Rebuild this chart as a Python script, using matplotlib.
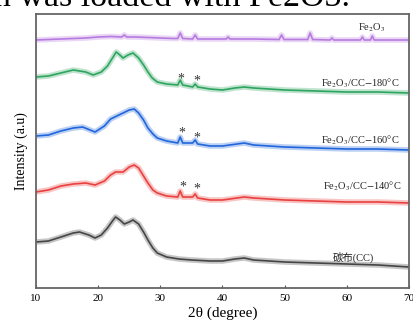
import matplotlib
matplotlib.use("Agg")
import matplotlib.pyplot as plt

# 2θ (degree) / intensity (a.u.), curves already stacked
tt_fe2o3 = [10, 12, 14, 16, 18, 20, 22, 23.8, 24.2, 24.6, 26, 28, 30, 32, 32.8, 33.2, 33.6,
            35.2, 35.6, 36.0, 38, 40.6, 40.9, 41.2, 45, 49.1, 49.5, 49.9, 53.7, 54.1, 54.5,
            57.3, 57.6, 57.9, 62.2, 62.5, 62.8, 63.8, 64.1, 64.4, 70]
int_fe2o3 = [248, 248.5, 249, 249.5, 250, 251, 251.5, 251, 253, 251, 251, 250.5, 250, 249.5,
             249.5, 255, 249.5, 249, 253, 249, 249, 249, 251, 249, 249, 248.5, 253, 248.5,
             248.5, 255, 248.5, 248, 250, 248, 248, 251, 248, 248, 252, 248, 248]

tt_180 = [10, 12, 14, 16, 18, 19.2, 20.5, 21.5, 22.3, 22.9, 23.5, 24, 24.8, 25.6, 26.5, 27.3,
          28, 28.7, 29.5, 31, 32.8, 33.2, 33.6, 35.2, 35.6, 36, 38, 40, 42, 43.5, 45, 50, 55,
          60, 65, 70]
int_180 = [211, 212, 215, 218, 216, 213, 216, 222, 230, 236, 233, 230, 233, 235, 230, 223,
           216, 210, 206, 204, 203, 208, 203, 201, 204, 201, 199, 198, 200, 201, 200, 198, 197,
           196, 196, 195]

tt_160 = [10, 12, 14, 16, 17.5, 19.5, 21, 22, 23, 24, 25, 25.8, 26.5, 27.3, 28, 28.8, 29.5,
          31, 32.8, 33.2, 33.6, 35.2, 35.6, 36, 38, 40, 43.5, 45, 50, 55, 60, 65, 70]
int_160 = [152, 153, 157, 160, 161, 156, 162, 169, 172, 175, 178, 179, 175, 168, 160, 154,
           150, 147, 145, 151, 145, 145, 148, 144, 142, 142, 145, 143, 141, 140, 139, 139, 138]

tt_140 = [10, 12, 14, 16, 18, 19.5, 21, 22, 22.8, 24, 25, 25.8, 26.5, 27.3, 28, 28.8, 29.5,
          31, 32.8, 33.2, 33.6, 35.2, 35.6, 36, 38, 40, 43.5, 45, 50, 55, 60, 65, 70]
int_140 = [96, 98, 102, 104, 105, 103, 107, 113, 116, 116, 121, 123, 120, 112, 105, 98, 95,
           92, 91, 97, 91, 91, 94, 90, 88, 88, 91, 90, 88, 87, 86, 86, 85]

tt_cc = [10, 12, 14, 16, 17, 18.5, 19.5, 20.5, 21.5, 22.3, 22.8, 23.5, 24.2, 25, 25.6, 26.5,
         27.3, 28, 28.8, 29.5, 31, 33, 35, 38, 40, 42, 43.5, 45, 50, 55, 60, 65, 70]
int_cc = [46, 47, 51, 55, 56, 53, 50, 53, 60, 67, 71, 68, 64, 66, 68, 64, 56, 48, 40, 35, 31,
          29, 28, 27, 27, 29, 30, 28, 26, 25, 24, 23, 21]

labels = [r"Fe$_2$O$_3$", r"Fe$_2$O$_3$/CC$-$180°C", r"Fe$_2$O$_3$/CC$-$160°C",
          r"Fe$_2$O$_3$/CC$-$140°C", "碳布(CC)"]
label_x = [64.0, 62.1, 62.1, 62.4, 61.0]
label_y = [260, 205, 148, 102, 31]

# Fe2O3 reflections marked with * on the composites
star_x = [[33.3, 35.9], [33.5, 35.9], [33.6, 35.9]]
star_y = [[209, 207], [155, 150], [101, 99]]

colors = ["#b77be0", "#2ea55f", "#2166db", "#e8413f", "#454545"]

plt.rcParams["font.family"] = ["Liberation Serif", "Noto Sans CJK SC"]
plt.rcParams["mathtext.fontset"] = "stix"

fig = plt.figure(figsize=(4.14, 3.24), dpi=100)
ax = fig.add_axes([36 / 414, 36 / 324, 373 / 414, 274 / 324])

# cut-off caption line from the page above the chart
fig.text(350 / 414, 1 - 6 / 324, "n was loaded with Fe2O3.", ha="right", va="baseline",
         fontsize=24.5, color="black")

series = [(tt_fe2o3, int_fe2o3), (tt_180, int_180), (tt_160, int_160),
          (tt_140, int_140), (tt_cc, int_cc)]
for (xs, ys), c in zip(series, colors):
    # wide pale stroke stands in for the noise band of the raw scans
    ax.plot(xs, ys, color=c, lw=4.0, alpha=0.3, solid_joinstyle="round")
    ax.plot(xs, ys, color=c, lw=1.2)

for lab, lx, ly in zip(labels, label_x, label_y):
    ax.text(lx, ly, lab, ha="center", va="center", fontsize=7.5, color="#222222")

for sx, sy in zip(star_x, star_y):
    for x, y in zip(sx, sy):
        ax.text(x, y, "*", ha="center", va="center", fontsize=10, color="#333333")

ax.set_xlim(10, 70)
ax.set_ylim(0, 274)
ax.set_xticks([10, 20, 30, 40, 50, 60, 70])
ax.set_yticks([])
ax.tick_params(axis="x", direction="in", length=2, width=0.8, color="#555555",
               labelsize=8, pad=4)
for s in ax.spines.values():
    s.set_color("#666666")
    s.set_linewidth(1.3)

ax.set_xlabel("2θ (degree)", fontsize=11, labelpad=3)
ax.set_ylabel("Intensity (a.u)", fontsize=10, labelpad=6)

fig.savefig("out.png", dpi=100)
